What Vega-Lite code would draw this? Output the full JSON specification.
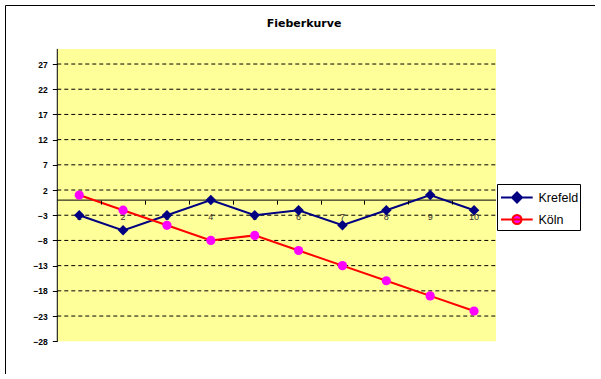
{
  "$schema": "https://vega.github.io/schema/vega-lite/v6.json",
  "autosize": {"type": "none"},
  "padding": {"left": 5, "top": 5, "right": 0, "bottom": 0},
  "width": 590,
  "height": 369,
  "background": "white",
  "config": {
    "view": {"stroke": "black", "strokeWidth": 1, "fill": "white"},
    "font": "Liberation Sans",
    "axisX": {
      "labels": false, "domain": false, "grid": false, "ticks": true, "tickSize": 4,
      "tickColor": "black", "tickWidth": 1, "offset": -173.9, "title": null, "zindex": 1
    },
    "axisY": {
      "domain": false, "grid": false, "ticks": true, "tickSize": 5, "tickColor": "black",
      "tickWidth": 1, "labelPadding": 5, "labelFont": "Liberation Sans", "labelFontSize": 8.5,
      "labelFontWeight": "bold", "labelColor": "black", "labelOverlap": false,
      "offset": -52.3, "title": null, "zindex": 1
    }
  },
  "title": {
    "text": "Fieberkurve",
    "font": "DejaVu Sans",
    "fontSize": 11,
    "fontWeight": "bold",
    "color": "black",
    "anchor": "middle",
    "frame": "group",
    "baseline": "alphabetic",
    "offset": -33,
    "dx": 4
  },
  "datasets": {
    "temps": [
      {"Tag": 1, "Stadt": "Krefeld", "Temperatur": -3},
      {"Tag": 2, "Stadt": "Krefeld", "Temperatur": -6},
      {"Tag": 3, "Stadt": "Krefeld", "Temperatur": -3},
      {"Tag": 4, "Stadt": "Krefeld", "Temperatur": 0},
      {"Tag": 5, "Stadt": "Krefeld", "Temperatur": -3},
      {"Tag": 6, "Stadt": "Krefeld", "Temperatur": -2},
      {"Tag": 7, "Stadt": "Krefeld", "Temperatur": -5},
      {"Tag": 8, "Stadt": "Krefeld", "Temperatur": -2},
      {"Tag": 9, "Stadt": "Krefeld", "Temperatur": 1},
      {"Tag": 10, "Stadt": "Krefeld", "Temperatur": -2},
      {"Tag": 1, "Stadt": "Köln", "Temperatur": 1},
      {"Tag": 2, "Stadt": "Köln", "Temperatur": -2},
      {"Tag": 3, "Stadt": "Köln", "Temperatur": -5},
      {"Tag": 4, "Stadt": "Köln", "Temperatur": -8},
      {"Tag": 5, "Stadt": "Köln", "Temperatur": -7},
      {"Tag": 6, "Stadt": "Köln", "Temperatur": -10},
      {"Tag": 7, "Stadt": "Köln", "Temperatur": -13},
      {"Tag": 8, "Stadt": "Köln", "Temperatur": -16},
      {"Tag": 9, "Stadt": "Köln", "Temperatur": -19},
      {"Tag": 10, "Stadt": "Köln", "Temperatur": -22}
    ],
    "grid": [
      {"Wert": -23}, {"Wert": -18}, {"Wert": -13}, {"Wert": -8}, {"Wert": -3},
      {"Wert": 2}, {"Wert": 7}, {"Wert": 12}, {"Wert": 17}, {"Wert": 22}, {"Wert": 27}
    ],
    "one": [{"k": 1}]
  },
  "layer": [
    {
      "data": {"name": "one"},
      "mark": {"type": "rect", "fill": "#FFFF99"},
      "encoding": {
        "x": {"datum": 0.5, "type": "quantitative", "scale": {"domain": [-0.692, 12.757], "nice": false, "zero": false}, "axis": {"values": [1.5, 2.5, 3.5, 4.5, 5.5, 6.5, 7.5, 8.5, 9.5], "labels": false, "ticks": true, "tickSize": 4, "offset": -173.9, "title": null, "zindex": 2}},
        "x2": {"datum": 10.5},
        "y": {"datum": -28, "type": "quantitative", "scale": {"domain": [-34.5, 38.71], "nice": false, "zero": false}, "axis": {"values": [-28, -23, -18, -13, -8, -3, 2, 7, 12, 17, 22, 27], "labelOverlap": false, "ticks": true, "tickSize": 5, "offset": -52.3, "title": null, "zindex": 2}},
        "y2": {"datum": 30}
      }
    },
    {
      "data": {"name": "grid"},
      "mark": {"type": "rule", "color": "black", "strokeWidth": 1, "strokeDash": [4, 3]},
      "encoding": {
        "x": {"datum": 0.5, "type": "quantitative", "axis": {"values": [1.5, 2.5, 3.5, 4.5, 5.5, 6.5, 7.5, 8.5, 9.5], "labels": false, "ticks": true, "tickSize": 4, "offset": -173.9, "title": null, "zindex": 2}},
        "x2": {"datum": 10.5},
        "y": {"field": "Wert", "type": "quantitative", "axis": {"values": [-28, -23, -18, -13, -8, -3, 2, 7, 12, 17, 22, 27], "labelOverlap": false, "ticks": true, "tickSize": 5, "offset": -52.3, "title": null, "zindex": 2}}
      }
    },
    {
      "data": {"name": "one"},
      "mark": {"type": "rule", "color": "black", "strokeWidth": 1},
      "encoding": {
        "x": {"datum": 0.5, "type": "quantitative", "axis": {"values": [1.5, 2.5, 3.5, 4.5, 5.5, 6.5, 7.5, 8.5, 9.5], "labels": false, "ticks": true, "tickSize": 4, "offset": -173.9, "title": null, "zindex": 2}},
        "x2": {"datum": 10.5},
        "y": {"datum": 0, "type": "quantitative", "axis": {"values": [-28, -23, -18, -13, -8, -3, 2, 7, 12, 17, 22, 27], "labelOverlap": false, "ticks": true, "tickSize": 5, "offset": -52.3, "title": null, "zindex": 2}}
      }
    },
    {
      "data": {"name": "one"},
      "mark": {"type": "rule", "color": "black", "strokeWidth": 1},
      "encoding": {
        "x": {"datum": 0.5, "type": "quantitative", "axis": {"values": [1.5, 2.5, 3.5, 4.5, 5.5, 6.5, 7.5, 8.5, 9.5], "labels": false, "ticks": true, "tickSize": 4, "offset": -173.9, "title": null, "zindex": 2}},
        "y": {"datum": -28, "type": "quantitative", "axis": {"values": [-28, -23, -18, -13, -8, -3, 2, 7, 12, 17, 22, 27], "labelOverlap": false, "ticks": true, "tickSize": 5, "offset": -52.3, "title": null, "zindex": 2}},
        "y2": {"datum": 30}
      }
    },
    {
      "data": {"name": "temps"},
      "transform": [{"filter": "datum.Stadt === 'Krefeld'"}],
      "mark": {"type": "text", "font": "Liberation Sans", "fontSize": 9, "color": "#333333", "baseline": "middle", "align": "center", "dy": 16.6},
      "encoding": {
        "x": {"field": "Tag", "type": "quantitative", "axis": {"values": [1.5, 2.5, 3.5, 4.5, 5.5, 6.5, 7.5, 8.5, 9.5], "labels": false, "ticks": true, "tickSize": 4, "offset": -173.9, "title": null, "zindex": 2}},
        "y": {"datum": 0, "type": "quantitative", "axis": {"values": [-28, -23, -18, -13, -8, -3, 2, 7, 12, 17, 22, 27], "labelOverlap": false, "ticks": true, "tickSize": 5, "offset": -52.3, "title": null, "zindex": 2}},
        "text": {"field": "Tag", "type": "quantitative"}
      }
    },
    {
      "data": {"name": "temps"},
      "mark": {"type": "line", "strokeWidth": 2},
      "encoding": {
        "x": {"field": "Tag", "type": "quantitative", "axis": {"values": [1.5, 2.5, 3.5, 4.5, 5.5, 6.5, 7.5, 8.5, 9.5], "labels": false, "ticks": true, "tickSize": 4, "offset": -173.9, "title": null, "zindex": 2}},
        "y": {"field": "Temperatur", "type": "quantitative", "axis": {"values": [-28, -23, -18, -13, -8, -3, 2, 7, 12, 17, 22, 27], "labelOverlap": false, "ticks": true, "tickSize": 5, "offset": -52.3, "title": null, "zindex": 2}},
        "color": {
          "field": "Stadt",
          "type": "nominal",
          "sort": ["Krefeld", "Köln"],
          "scale": {"domain": ["Krefeld", "Köln"], "range": ["#000080", "#FF0000"]},
          "legend": {
            "title": null,
            "orient": "none",
            "legendX": 492,
            "legendY": 179,
            "strokeColor": "black",
            "fillColor": "white",
            "padding": 1.5,
            "rowPadding": 0,
            "symbolSize": 484,
            "symbolStrokeWidth": 2,
            "labelOffset": 16,
            "labelFont": "Liberation Sans",
            "labelFontSize": 12.5,
            "labelColor": "black",
            "encode": {
              "symbols": {
                "update": {
                  "shape": {"signal": "datum.value === 'Krefeld' ? 'M-0.864,0H2.018M0.591,-0.455L1.046,0L0.591,0.455L0.136,0Z' : 'M-0.864,0H2.018M0.181,0A0.41,0.41 0 1,0 1.001,0A0.41,0.41 0 1,0 0.181,0Z'"},
                  "fill": {"signal": "datum.value === 'Krefeld' ? '#000080' : '#FF00FF'"},
                  "stroke": {"signal": "datum.value === 'Krefeld' ? '#000080' : '#FF0000'"},
                  "strokeWidth": {"value": 2},
                  "fillOpacity": {"value": 1},
                  "opacity": {"value": 1},
                  "size": {"value": 484}
                }
              }
            }
          }
        }
      }
    },
    {
      "data": {"name": "temps"},
      "transform": [{"filter": "datum.Stadt === 'Krefeld'"}],
      "mark": {"type": "point", "shape": "diamond", "filled": true, "color": "#000080", "size": 110, "opacity": 1},
      "encoding": {
        "x": {"field": "Tag", "type": "quantitative", "axis": {"values": [1.5, 2.5, 3.5, 4.5, 5.5, 6.5, 7.5, 8.5, 9.5], "labels": false, "ticks": true, "tickSize": 4, "offset": -173.9, "title": null, "zindex": 2}},
        "y": {"field": "Temperatur", "type": "quantitative", "axis": {"values": [-28, -23, -18, -13, -8, -3, 2, 7, 12, 17, 22, 27], "labelOverlap": false, "ticks": true, "tickSize": 5, "offset": -52.3, "title": null, "zindex": 2}}
      }
    },
    {
      "data": {"name": "temps"},
      "transform": [{"filter": "datum.Stadt === 'Köln'"}],
      "mark": {"type": "point", "shape": "circle", "filled": true, "color": "#FF00FF", "size": 85, "opacity": 1},
      "encoding": {
        "x": {"field": "Tag", "type": "quantitative", "axis": {"values": [1.5, 2.5, 3.5, 4.5, 5.5, 6.5, 7.5, 8.5, 9.5], "labels": false, "ticks": true, "tickSize": 4, "offset": -173.9, "title": null, "zindex": 2}},
        "y": {"field": "Temperatur", "type": "quantitative", "axis": {"values": [-28, -23, -18, -13, -8, -3, 2, 7, 12, 17, 22, 27], "labelOverlap": false, "ticks": true, "tickSize": 5, "offset": -52.3, "title": null, "zindex": 2}}
      }
    }
  ]
}
